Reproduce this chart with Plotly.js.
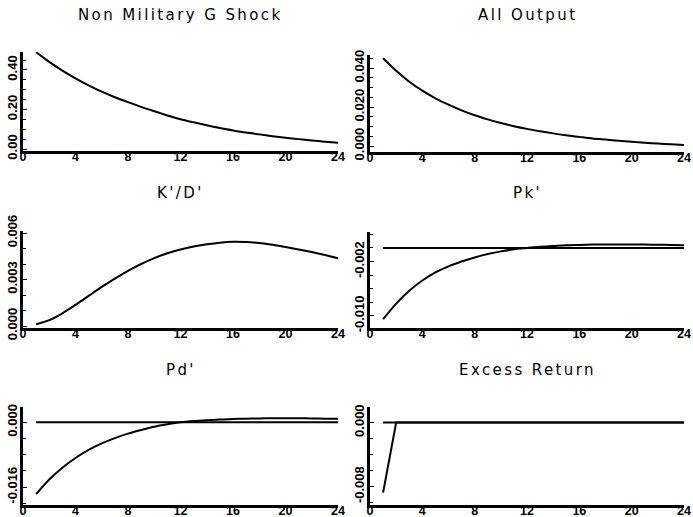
<!DOCTYPE html>
<html>
<head>
<meta charset="utf-8">
<script src="https://cdn.plot.ly/plotly-3.0.1.min.js"></script>
<style>html,body{margin:0;padding:0;background:#fff;}#chart{width:693px;height:517px;}
.annotation-text{letter-spacing:2.4px;}</style>
</head>
<body>
<div id="chart"></div>
<script>
const periods = [1,2,3,4,5,6,7,8,9,10,11,12,13,14,15,16,17,18,19,20,21,22,23,24];
const panelTitles = ["Non Military G Shock", "All Output", "K'/D'", "Pk'", "Pd'", "Excess Return"];
const nonMilitaryG = [0.490,0.441,0.397,0.358,0.322,0.290,0.262,0.237,0.213,0.191,0.170,0.151,0.135,0.120,0.106,0.094,0.083,0.074,0.065,0.057,0.050,0.043,0.037,0.032];
const allOutput = [0.0450,0.0386,0.0330,0.0284,0.0245,0.0212,0.0183,0.0158,0.0137,0.0118,0.0102,0.0088,0.0076,0.0065,0.0055,0.0047,0.0039,0.0033,0.0027,0.0022,0.0017,0.0013,0.0009,0.0006];
const kdRatio = [0.00011,0.00038,0.00082,0.00136,0.00194,0.00252,0.00306,0.00356,0.00400,0.00438,0.00469,0.00494,0.00513,0.00527,0.00538,0.00544,0.00542,0.00535,0.00524,0.00510,0.00494,0.00477,0.00458,0.00437];
const pk = [-0.0105,-0.0082,-0.0063,-0.0048,-0.0036,-0.0027,-0.0020,-0.0014,-0.0009,-0.0005,-0.0002,0.0000,0.0002,0.0003,0.0004,0.00045,0.0005,0.0005,0.0005,0.0005,0.0005,0.00048,0.00045,0.00042];
const pd = [-0.0177,-0.0141,-0.0112,-0.0088,-0.0068,-0.0052,-0.0039,-0.0028,-0.0019,-0.0011,-0.0005,0.0000,0.0003,0.0005,0.0007,0.0008,0.0009,0.00095,0.0010,0.0010,0.0010,0.00095,0.0009,0.00085];
const excessReturn = [-0.00875,0,0,0,0,0,0,0,0,0,0,0,0,0,0,0,0,0,0,0,0,0,0,0];
const zeroLine = [0,0,0,0,0,0,0,0,0,0,0,0,0,0,0,0,0,0,0,0,0,0,0,0];
const xTickVals = [0,4,8,12,16,20,24];
const xTickText = ["0","4","8","12","16","20","24"];
const yTickVals = [[0,0.2,0.4],[0,0.02,0.04],[0,0.003,0.006],[-0.010,-0.002],[-0.016,0],[-0.008,0]];
const yTickText = [["0.00","0.20","0.40"],["0.000","0.020","0.040"],["0.000","0.003","0.006"],["-0.010","-0.002"],["-0.016","0.000"],["-0.008","0.000"]];

const W = 693, H = 517;
// panel pixel boxes [left, right, top, bottom]
const boxes = [
  [23, 338, 52, 151],
  [370, 684, 55, 151.7],
  [23, 338, 230.7, 327.7],
  [370, 684, 231.7, 327.7],
  [23, 338, 406.5, 505],
  [370, 684, 407, 505]
];
const yRanges = [[-0.0101,0.491],[-0.0029,0.0467],[-0.00011,0.00615],[-0.01175,0.0024],[-0.0204,0.0039],[-0.0103,0.00195]];
const minorDt = [0.05,0.005,0.001,0.002,0.004,0.002];
const titleY = [15, 193, 370];

const seriesByPanel = [[nonMilitaryG],[allOutput],[kdRatio],[zeroLine,pk],[zeroLine,pd],[zeroLine,excessReturn]];
const smoothByPanel = [[true],[true],[true],[false,true],[false,true],[false,false]];

const data = [];
const layout = {
  width: W, height: H,
  margin: {l:0,r:0,t:0,b:0},
  paper_bgcolor: '#fff', plot_bgcolor: '#fff',
  showlegend: false,
  annotations: []
};
const tickFont = {family: '"Liberation Sans", Arial, sans-serif', size: 13, color: '#000', weight: 'bold'};
const xTickFont = {family: '"Liberation Sans", Arial, sans-serif', size: 12.5, color: '#000', weight: 'bold'};

for (let i = 0; i < 6; i++) {
  const n = i + 1;
  const sfx = (n === 1 ? '' : String(n));
  const b = boxes[i];
  seriesByPanel[i].forEach((s, k) => {
    const line = {color: '#000', width: 2};
    if (smoothByPanel[i][k]) { line.shape = 'spline'; line.smoothing = 0.8; }
    data.push({x: periods, y: s, type: 'scatter', mode: 'lines',
      line: line, xaxis: 'x' + sfx, yaxis: 'y' + sfx, hoverinfo: 'skip'});
  });
  layout['xaxis' + sfx] = {
    domain: [b[0]/W, b[1]/W], anchor: 'y' + sfx,
    range: [0, 24], tickvals: xTickVals, ticktext: xTickText,
    showline: true, linewidth: 3, linecolor: '#000', ticks: '',
    ticklabelstandoff: -8,
    showgrid: false, zeroline: false, tickfont: xTickFont, fixedrange: true
  };
  layout['yaxis' + sfx] = {
    domain: [1 - b[3]/H, 1 - b[2]/H], anchor: 'x' + sfx,
    range: yRanges[i], tickvals: yTickVals[i], ticktext: yTickText[i],
    tickangle: -90, showline: true, linewidth: 3, linecolor: '#000',
    ticks: 'inside', ticklen: 4, tickwidth: 1, tickcolor: '#000',
    ticklabelstandoff: -2,
    minor: {ticks: 'inside', ticklen: 3, tickwidth: 1, tickcolor: '#000', dtick: minorDt[i], tick0: 0, showgrid: false},
    showgrid: false, zeroline: false, tickfont: tickFont, fixedrange: true
  };
  layout.annotations.push({
    text: panelTitles[i], xref: 'paper', yref: 'paper',
    x: (b[0] + b[1]) / 2 / W, y: 1 - titleY[Math.floor(i/2)] / H,
    xanchor: 'center', yanchor: 'middle', showarrow: false,
    font: {family: '"DejaVu Sans", sans-serif', size: 15, color: '#000'}
  });
}

Plotly.newPlot('chart', data, layout, {staticPlot: true, displayModeBar: false});
</script>
</body>
</html>
